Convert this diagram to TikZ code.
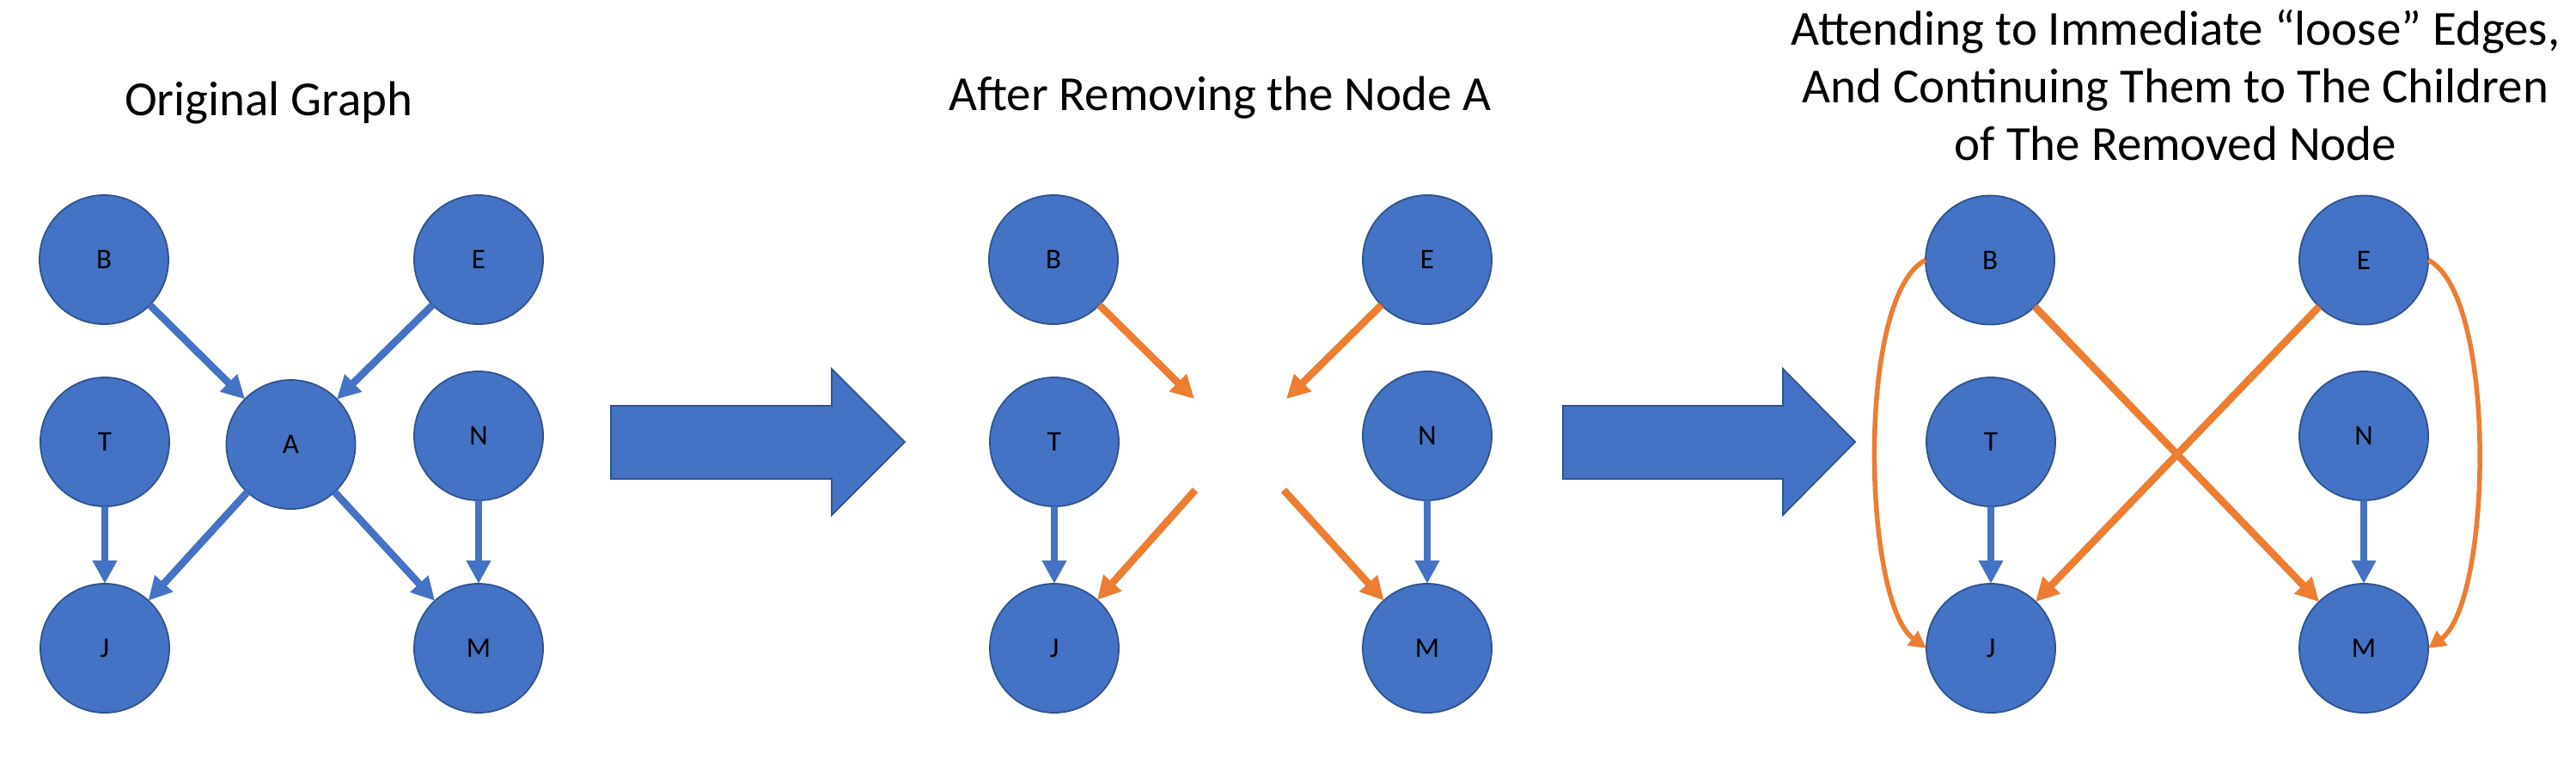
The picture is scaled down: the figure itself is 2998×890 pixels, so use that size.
\documentclass[tikz,border=0pt]{standalone}
\usepackage{fontspec}
\setmainfont{Carlito}
\usetikzlibrary{arrows.meta}
\definecolor{nodeblue}{HTML}{4472C4}
\definecolor{nodeline}{HTML}{2F528F}
\definecolor{edgeorange}{HTML}{ED7D31}
\begin{document}
\begin{tikzpicture}[x=0.01cm, y=-0.01cm,
  gnode/.style={circle, fill=nodeblue, draw=nodeline, line width=0.5pt, minimum size=1.5cm, inner sep=0pt, outer sep=0pt, font=\fontsize{9.4}{11}\selectfont},
  bedge/.style={draw=nodeblue, line width=0.085cm, -{Triangle[width=0.27cm,length=0.27cm]}},
  oedge/.style={draw=edgeorange, line width=0.085cm, -{Triangle[width=0.27cm,length=0.27cm]}},
  oloose/.style={draw=edgeorange, line width=0.085cm},
  ocurve/.style={draw=edgeorange, line width=0.055cm, -{Triangle[width=0.2cm,length=0.2cm]}},
  blockarrow/.style={fill=nodeblue, draw=nodeline, line width=0.5pt, line join=miter},
  title/.style={font=\fontsize{16.2}{19.07}\selectfont, align=center, inner sep=0pt}
]
\useasboundingbox (0,0) rectangle (2998,890);

% Titles
\node[title, anchor=base] (t1) at (313,134) {Original Graph};
\node[title, anchor=base] (t2) at (1420,128) {After Removing the Node A};
\node[title, anchor=north] (t3) at (2532,11) {Attending to Immediate “loose” Edges,\\And Continuing Them to The Children\\of The Removed Node};

% Panel 1
\node[gnode] (B1) at (121,302) {B};
\node[gnode] (E1) at (557,302) {E};
\node[gnode] (T1) at (122,514) {T};
\node[gnode] (A1) at (338.5,517) {A};
\node[gnode] (N1) at (557,507) {N};
\node[gnode] (J1) at (122,754) {J};
\node[gnode] (M1) at (557,754) {M};
\draw[bedge] (B1) -- (A1);
\draw[bedge] (E1) -- (A1);
\draw[bedge] (T1) -- (J1);
\draw[bedge] (A1) -- (J1);
\draw[bedge] (A1) -- (M1);
\draw[bedge] (N1) -- (M1);

% Block arrow 1
\draw[blockarrow] (711,472) -- (968,472) -- (968,429) -- (1053,514) -- (968,599) -- (968,557) -- (711,557) -- cycle;

% Panel 2
\node[gnode] (B2) at (1226,302) {B};
\node[gnode] (E2) at (1661,302) {E};
\node[gnode] (T2) at (1227,514) {T};
\node[gnode] (N2) at (1661,507) {N};
\node[gnode] (J2) at (1227,754) {J};
\node[gnode] (M2) at (1661,754) {M};
\coordinate (lbin) at (1390,464);
\coordinate (lein) at (1497,464);
\coordinate (ljout) at (1391,570);
\coordinate (lmout) at (1494,570);
\draw[oedge] (B2) -- (lbin);
\draw[oedge] (E2) -- (lein);
\draw[oedge] (ljout) -- (J2);
\draw[oedge] (lmout) -- (M2);
\draw[bedge] (T2) -- (J2);
\draw[bedge] (N2) -- (M2);

% Block arrow 2
\draw[blockarrow] (1819,472) -- (2075,472) -- (2075,429) -- (2159,514) -- (2075,599) -- (2075,557) -- (1819,557) -- cycle;

% Panel 3
\node[gnode] (B3) at (2316,302.5) {B};
\node[gnode] (E3) at (2751,302.5) {E};
\node[gnode] (T3) at (2317,514) {T};
\node[gnode] (N3) at (2751,507) {N};
\node[gnode] (J3) at (2317,754) {J};
\node[gnode] (M3) at (2751,754) {M};
\draw[oedge] (B3) -- (M3);
\draw[oedge] (E3) -- (J3);
\draw[bedge] (T3) -- (J3);
\draw[bedge] (N3) -- (M3);
\draw[ocurve] (B3.west) .. controls +(-81,41) and +(-74,-54) .. (J3.west);
\draw[ocurve] (E3.east) .. controls +(81,41) and +(74,-54) .. (M3.east);
\end{tikzpicture}
\end{document}
